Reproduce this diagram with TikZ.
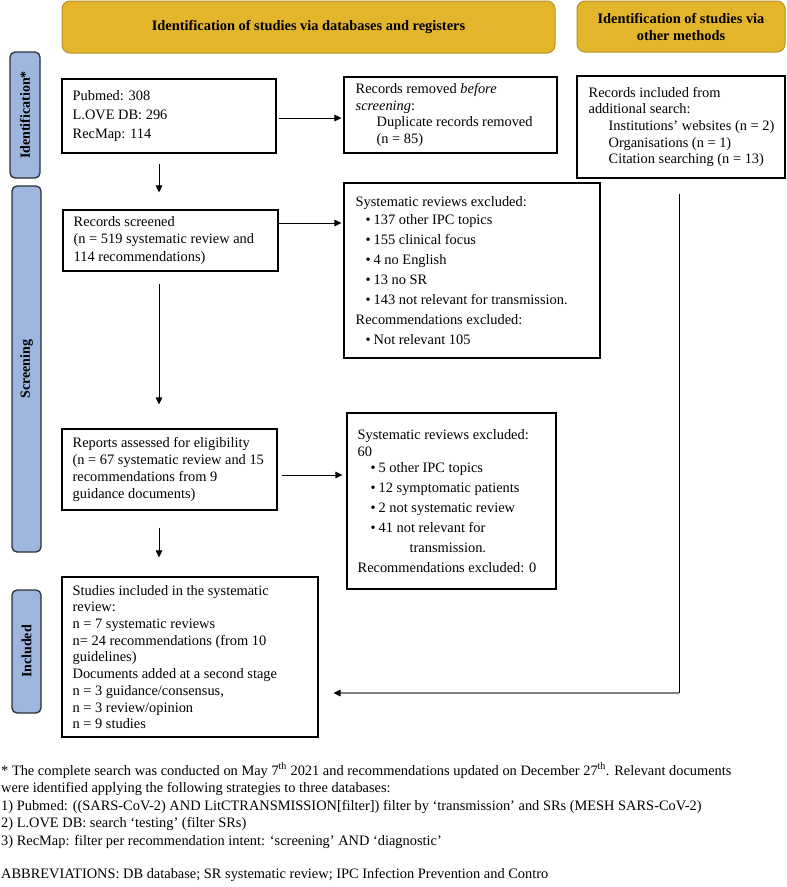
\documentclass[tikz,border=0pt]{standalone}
\usepackage{fontspec}
\setmainfont{Liberation Serif}
\usetikzlibrary{arrows.meta,calc}
\definecolor{hdrfill}{HTML}{E3B52B}
\definecolor{hdrdraw}{HTML}{B8912A}
\definecolor{sidefill}{HTML}{9EB5DD}
\definecolor{sidedraw}{HTML}{2A2F3A}
\definecolor{arrgray}{HTML}{7F7F7F}
\newcommand\mybul{\hspace*{10pt}\textbullet\hspace{3pt}}
\newcommand\mybulb{\hspace*{13pt}\textbullet\hspace{3pt}}
\begin{document}
\begin{tikzpicture}[x=1pt,y=-1pt,
  box/.style={draw=black, line width=1.1pt, rectangle, inner sep=0pt},
  hdr/.style={draw=hdrdraw, fill=hdrfill, line width=1pt, rounded corners=8pt, inner sep=0pt, font=\fontsize{14.4}{17}\selectfont\bfseries, align=center},
  side/.style={draw=sidedraw, fill=sidefill, line width=1.3pt, rounded corners=5pt, inner sep=0pt, rotate=90, font=\fontsize{14}{16}\selectfont\bfseries},
  txt/.style={anchor=west, align=left, inner sep=0pt, font=\fontsize{14.4}{16.7}\selectfont},
  arr/.style={line width=0.9pt, -{Triangle[length=7pt,width=6.5pt]}},
  arrg/.style={line width=1.1pt, draw=arrgray, -{Triangle[length=7pt,width=6.5pt,color=black]}},
  plain/.style={line width=0.9pt},
  fn/.style={anchor=base west, inner sep=0pt, font=\fontsize{14.4}{17}\selectfont}
]
\useasboundingbox (0,0) rectangle (787,887);

% headers
\node[hdr, minimum width=493pt, minimum height=52pt] (H1) at (308.5,27) {Identification of studies via databases and registers};
\node[hdr, minimum width=208pt, minimum height=51pt] (H2) at (681,26.5) {Identification of studies via\\other methods};

% side labels
\node[side, minimum width=126pt, minimum height=30pt] (S1) at (25,115) {Identification*};
\node[side, minimum width=366pt, minimum height=29pt] (S2) at (26.5,369) {Screening};
\node[side, minimum width=123pt, minimum height=29pt] (S3) at (26.5,651.5) {Included};

% boxes
\node[box, minimum width=214pt, minimum height=74pt] (A) at (169,116) {};
\node[box, minimum width=213pt, minimum height=76pt] (B) at (450.5,115) {};
\node[box, minimum width=208pt, minimum height=102pt] (C) at (681,127) {};
\node[box, minimum width=215pt, minimum height=61pt] (D) at (170.5,240.5) {};
\node[box, minimum width=256pt, minimum height=175pt] (E) at (472,270.5) {};
\node[box, minimum width=215pt, minimum height=81pt] (F) at (169.5,469.5) {};
\node[box, minimum width=209pt, minimum height=176pt] (G) at (451.5,501) {};
\node[box, minimum width=256pt, minimum height=160pt] (H) at (190,657) {};

% box texts
\node[txt] (At) at ([xshift=11pt]A.west) {Pubmed: 308\\[2.3pt]L.OVE DB: 296\\[2.3pt]RecMap: 114};
\node[txt] (Bt) at ([xshift=12pt]B.west) {Records removed \textit{before}\\\textit{screening}:\\\hspace*{21pt}Duplicate records removed\\\hspace*{21pt}(n = 85)};
\node[txt] (Ct) at ([xshift=12pt]C.west) {Records included from\\additional search:\\\hspace*{20pt}Institutions’ websites (n = 2)\\\hspace*{20pt}Organisations (n = 1)\\\hspace*{20pt}Citation searching (n = 13)};
\node[txt] (Dt) at ([xshift=11pt]D.west) {Records screened\\[0.8pt](n = 519 systematic review and\\[0.8pt]114 recommendations)};
\node[txt] (Et) at ([xshift=12pt]E.west) {Systematic reviews excluded:\\[1.3pt]
\mybul 137 other IPC topics\\[3.3pt]
\mybul 155 clinical focus\\[3.3pt]
\mybul 4 no English\\[3.3pt]
\mybul 13 no SR\\[3.3pt]
\mybul 143 not relevant for transmission.\\[3.3pt]
Recommendations excluded:\\[2.5pt]
\mybul Not relevant 105};
\node[txt] (Ft) at ([xshift=11pt]F.west) {Reports assessed for eligibility\\(n = 67 systematic review and 15\\recommendations from 9\\guidance documents)};
\node[txt] (Gt) at ([xshift=11pt]G.west) {Systematic reviews excluded:\\
60\\
\mybulb 5 other IPC topics\\[3.3pt]
\mybulb 12 symptomatic patients\\[3.3pt]
\mybulb 2 not systematic review\\[3.3pt]
\mybulb 41 not relevant for\\[3pt]
\hspace*{52pt}transmission.\\[3pt]
Recommendations excluded: 0};
\node[txt] (Ht) at ([xshift=11pt]H.west) {Studies included in the systematic\\review:\\n = 7 systematic reviews\\n= 24 recommendations (from 10\\guidelines)\\Documents added at a second stage\\n = 3 guidance/consensus,\\n = 3 review/opinion\\n = 9 studies};

% connectors
\coordinate (mx) at (159,0);
\coordinate (yAB) at (0,118);
\coordinate (yDE) at (0,223);
\coordinate (yFG) at (0,475);
\coordinate (bend) at (679,693);
\draw[arr] ([xshift=2pt]A.east |- yAB) -- ([xshift=-2pt]B.west |- yAB);
\draw[arr] ([yshift=-10pt]A.south -| mx) -- ([yshift=17pt]D.north -| mx);
\draw[arr] (D.east |- yDE) -- ([xshift=-2pt]E.west |- yDE);
\draw[arr] ([yshift=-12pt]D.south -| mx) -- ([yshift=24pt]F.north -| mx);
\draw[arr] ([xshift=4pt]F.east |- yFG) -- ([xshift=-4pt]G.west |- yFG);
\draw[arr] ([yshift=-17pt]F.south -| mx) -- ([yshift=19pt]H.north -| mx);
\draw[plain] ([yshift=-15pt]C.south -| bend) -- (bend);
\draw[arrg] (bend) -- ([xshift=15pt]H.east |- bend);

% footnotes
\node[fn] (fn1) at (1,775) {* The complete search was conducted on May 7\textsuperscript{th} 2021 and recommendations updated on December 27\textsuperscript{th}. Relevant documents};
\node[fn] (fn2) at (1,792.5) {were identified applying the following strategies to three databases:};
\node[fn] (fn3) at (1,810) {1) Pubmed: ((SARS-CoV-2) AND LitCTRANSMISSION[filter]) filter by ‘transmission’ and SRs (MESH SARS-CoV-2)};
\node[fn] (fn4) at (1,827.5) {2) L.OVE DB: search ‘testing’ (filter SRs)};
\node[fn] (fn5) at (1,845) {3) RecMap: filter per recommendation intent: ‘screening’ AND ‘diagnostic’};
\node[fn] (fn6) at (1,878) {ABBREVIATIONS: DB database; SR systematic review; IPC Infection Prevention and Contro};
\end{tikzpicture}
\end{document}
